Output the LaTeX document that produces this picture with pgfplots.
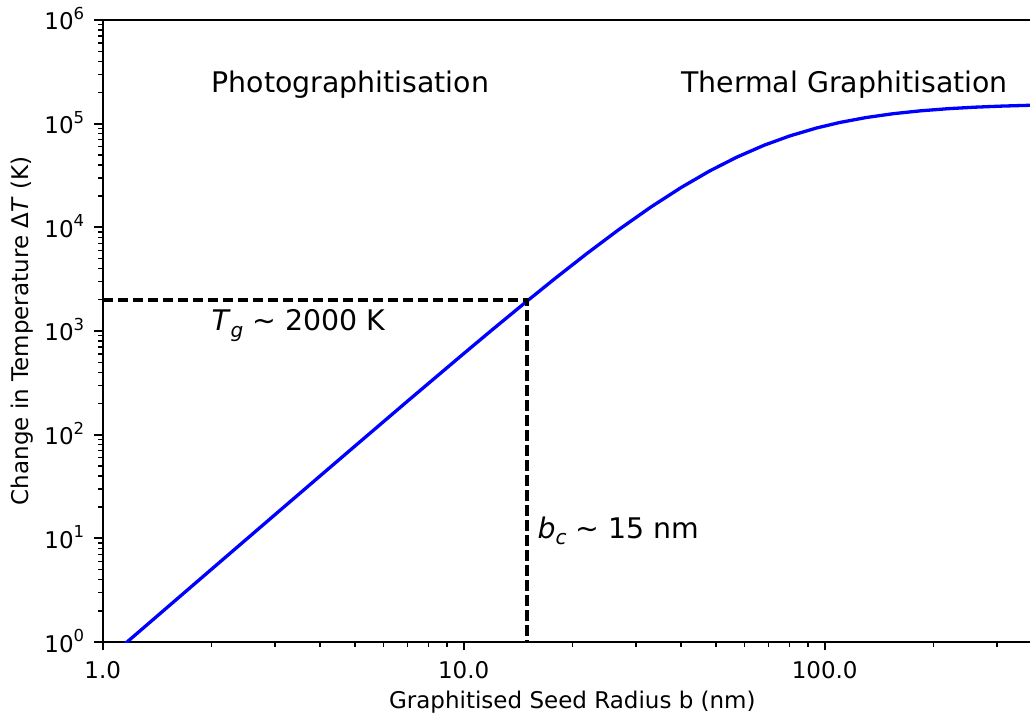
\documentclass[border=0pt]{standalone}
\usepackage{fontspec}
\setmainfont{DejaVu Sans}
\usepackage{pgfplots}
\pgfplotsset{compat=1.18}

% decade tick label: 10 with a raised exponent
\newcommand\tlab[1]{10\raisebox{0.45em}{\fontsize{16.5}{16.5}\selectfont #1}}

\begin{document}
\begin{tikzpicture}
\begin{loglogaxis}[
  scale only axis,
  width=939.3pt, height=622pt,
  xmin=1, xmax=400, ymin=1, ymax=1e6,
  xtick={1,10,100},
  xticklabels={1.0,10.0,100.0},
  minor xtick={2,3,4,5,6,7,8,9,20,30,40,50,60,70,80,90,200,300,400},
  ytick={1,10,100,1000,10000,100000,1000000},
  yticklabels={\tlab{0},\tlab{1},\tlab{2},\tlab{3},\tlab{4},\tlab{5},\tlab{6}},
  minor ytick={2,3,4,5,6,7,8,9,20,30,40,50,60,70,80,90,
    200,300,400,500,600,700,800,900,
    2000,3000,4000,5000,6000,7000,8000,9000,
    20000,30000,40000,50000,60000,70000,80000,90000,
    200000,300000,400000,500000,600000,700000,800000,900000},
  tick align=outside,
  xtick pos=bottom, ytick pos=left,
  major tick length=8.3pt, minor tick length=4.7pt,
  every major tick/.append style={black, line width=1.9pt},
  every minor tick/.append style={black, line width=1.4pt},
  axis line style={line width=1.9pt},
  tick label style={font=\fontsize{23}{27}\selectfont, inner sep=0pt},
  xticklabel style={anchor=base, yshift=-28pt},
  yticklabel style={anchor=base east, xshift=-10pt, yshift=-10pt},
  xlabel={Graphitised Seed Radius b (nm)},
  ylabel={Change in Temperature Δ\textit{T} (K)},
  every axis x label/.style={at={([yshift=-66pt]axis description cs:0.5,0)},
    anchor=base, inner sep=0pt, font=\fontsize{23}{27}\selectfont},
  every axis y label/.style={at={([xshift=-74.2pt]axis description cs:0,0.5)},
    rotate=90, anchor=base, inner sep=0pt, font=\fontsize{23}{27}\selectfont},
  clip=true,
]
% temperature rise of the seed against its radius
\addplot[color={rgb,1:red,0;green,0;blue,1}, line width=3.3pt] coordinates {
  (1,0.628) (1.17,1.005) (1.5,2.117) (2,5.016) (3,16.90) (4,39.94) (5,77.75)
  (7,211.4) (10,604.9) (12,1028.5) (15,1950.9) (18,3255.2) (22,5625.9)
  (27,9596.7) (33,15684.5) (40,24177.7) (48,34947) (57,47413) (68,61974)
  (80,76132) (95,90877) (110,102587) (130,114414) (155,124824) (185,133175)
  (220,139494) (260,144123) (310,147753) (370,150412) (400,151334)
};
% graphitisation threshold and critical radius
\addplot[black, line width=3.6pt, dash pattern=on 10.5pt off 4.5pt] coordinates {
  (1,2000) (15,2000) (15,1)
};
\node[anchor=base west, inner sep=0pt, font=\fontsize{28.4}{34}\selectfont]
  at (axis cs:2,2e5) {Photographitisation};
\node[anchor=base west, inner sep=0pt, font=\fontsize{28.4}{34}\selectfont]
  at (axis cs:40,2e5) {Thermal Graphitisation};
\node[anchor=base west, inner sep=0pt, font=\fontsize{28.4}{34}\selectfont]
  at (axis cs:2,1000) {\textit{T}\raisebox{-0.22em}{\fontsize{20}{20}\selectfont\textit{g}} \textasciitilde\ 2000 K};
\node[anchor=base west, inner sep=0pt, font=\fontsize{28.4}{34}\selectfont]
  at (axis cs:16,10) {\textit{b}\raisebox{-0.22em}{\fontsize{20}{20}\selectfont\textit{c}} \textasciitilde\ 15 nm};
\end{loglogaxis}
\pgfresetboundingbox
\path[use as bounding box]
  ([shift={(-102.7pt,-73pt)}]current axis.south west)
  rectangle ([shift={(927.3pt,20pt)}]current axis.north west);
\end{tikzpicture}
\end{document}
